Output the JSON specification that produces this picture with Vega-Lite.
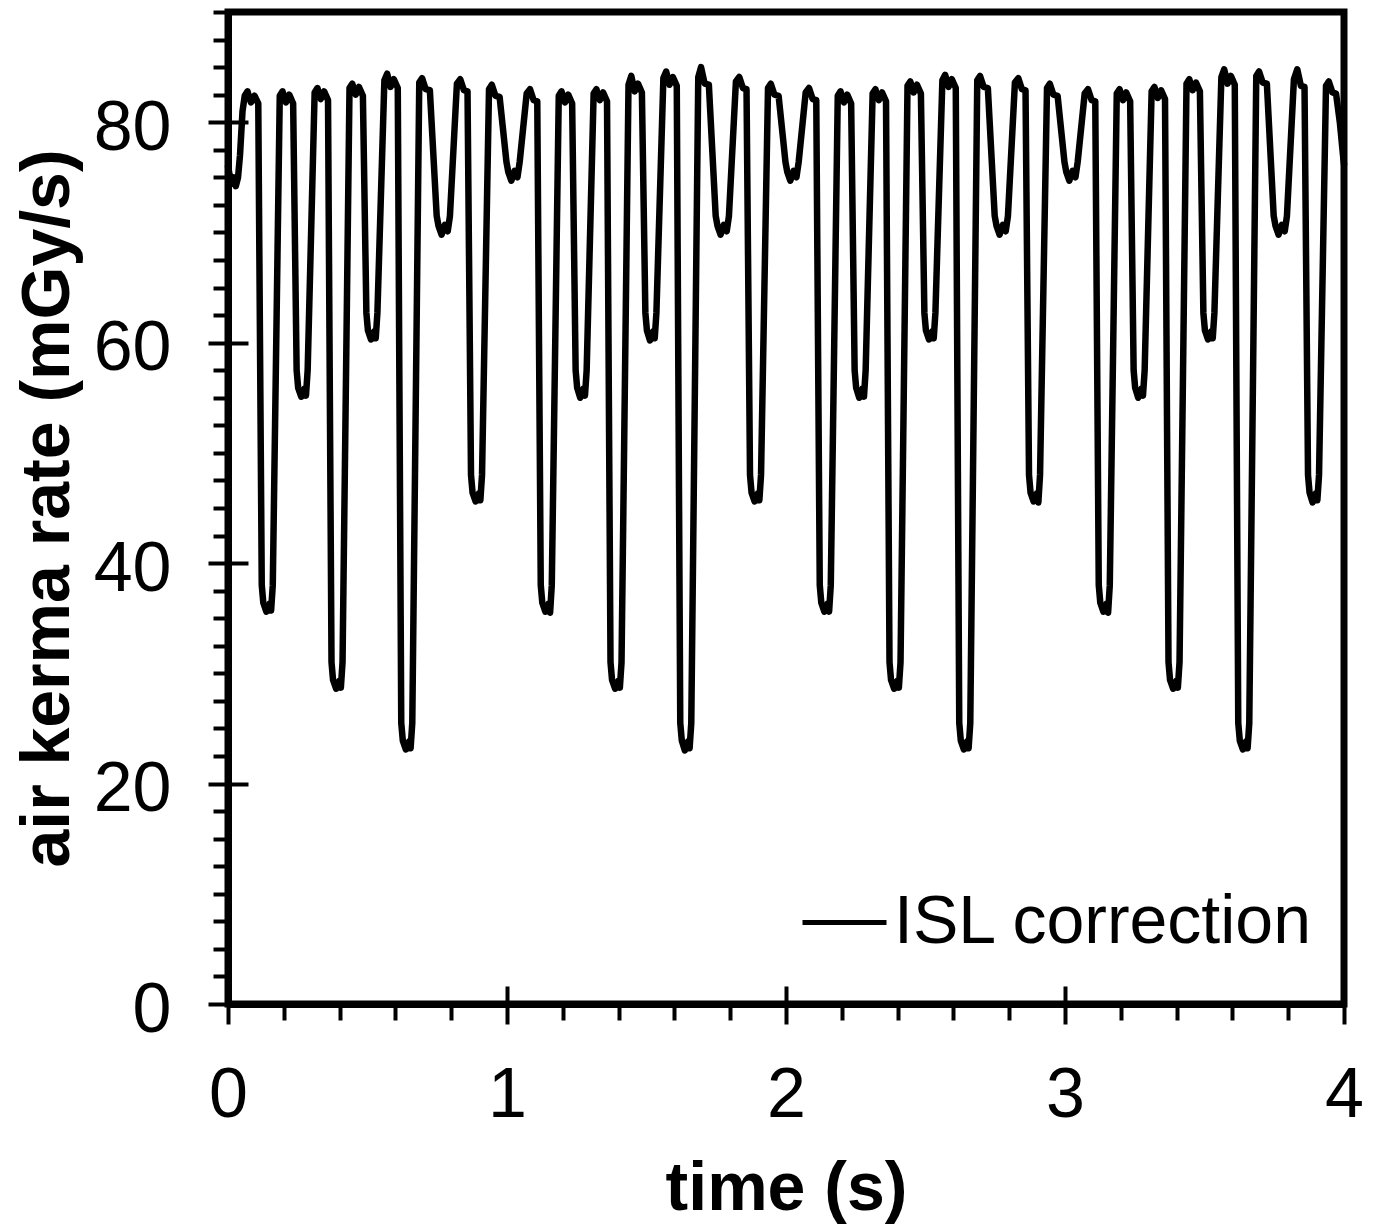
{
  "$schema": "https://vega.github.io/schema/vega-lite/v6.json",
  "width": 1116,
  "height": 992,
  "autosize": "none",
  "padding": {"left": 228, "top": 12, "right": 31, "bottom": 220},
  "background": "white",
  "config": {"view": {"stroke": "black", "strokeWidth": 7}},
  "data": {"values": [
    {"t":0,"v":76.0},{"t":0.006,"v":75.2},{"t":0.012,"v":74.4},{"t":0.02,"v":75.0},{"t":0.028,"v":74.2},{"t":0.036,"v":75.0},{"t":0.043,"v":77.0},{"t":0.052,"v":81.0},{"t":0.06,"v":82.4},{"t":0.07,"v":82.8},{"t":0.082,"v":81.8},{"t":0.095,"v":82.4},
    {"t":0.1085,"v":81.7},{"t":0.121,"v":38},{"t":0.1265,"v":36.4},{"t":0.1375,"v":35.6},{"t":0.1485,"v":36.3},{"t":0.1545,"v":35.7},{"t":0.1605,"v":38},{"t":0.1855,"v":82.4},{"t":0.1955,"v":82.8},{"t":0.2075,"v":81.8},{"t":0.2195,"v":82.5},
    {"t":0.2335,"v":81.7},{"t":0.246,"v":57.5},{"t":0.2515,"v":55.9},{"t":0.2625,"v":55.1},{"t":0.2735,"v":55.8},{"t":0.2795,"v":55.2},{"t":0.2855,"v":57.5},{"t":0.3105,"v":82.7},{"t":0.3205,"v":83.1},{"t":0.3325,"v":82.1},{"t":0.3445,"v":82.8},
    {"t":0.3585,"v":82.0},{"t":0.371,"v":31},{"t":0.3765,"v":29.4},{"t":0.3875,"v":28.6},{"t":0.3985,"v":29.3},{"t":0.4045,"v":28.7},{"t":0.4105,"v":31},{"t":0.4355,"v":83.1},{"t":0.4455,"v":83.5},{"t":0.4575,"v":82.5},{"t":0.4695,"v":83.2},
    {"t":0.4835,"v":82.4},{"t":0.496,"v":62.7},{"t":0.5015,"v":61.1},{"t":0.5125,"v":60.3},{"t":0.5235,"v":61.0},{"t":0.5295,"v":60.4},{"t":0.5355,"v":62.7},{"t":0.5605,"v":83.8},{"t":0.5705,"v":84.4},{"t":0.5825,"v":83.2},{"t":0.5945,"v":83.9},
    {"t":0.6085,"v":83.1},{"t":0.621,"v":25.5},{"t":0.6265,"v":23.9},{"t":0.6375,"v":23.1},{"t":0.6485,"v":23.8},{"t":0.6545,"v":23.2},{"t":0.6605,"v":25.5},{"t":0.6855,"v":83.6},{"t":0.6955,"v":84.0},{"t":0.7085,"v":83.0},
    {"t":0.7235,"v":82.9},{"t":0.748,"v":71.5},{"t":0.7545,"v":70.6},{"t":0.7655,"v":69.8},{"t":0.7775,"v":70.7},{"t":0.7875,"v":70.1},{"t":0.7955,"v":71.5},{"t":0.8205,"v":83.5},{"t":0.8325,"v":83.9},{"t":0.8455,"v":82.9},
    {"t":0.8585,"v":82.8},{"t":0.871,"v":48},{"t":0.8765,"v":46.4},{"t":0.8875,"v":45.6},{"t":0.8985,"v":46.3},{"t":0.9045,"v":45.7},{"t":0.9105,"v":48},{"t":0.9355,"v":83.0},{"t":0.9455,"v":83.4},{"t":0.9585,"v":82.4},
    {"t":0.9735,"v":82.3},{"t":0.998,"v":76.4},{"t":1.0045,"v":75.5},{"t":1.0155,"v":74.7},{"t":1.0275,"v":75.6},{"t":1.0375,"v":75.0},{"t":1.0455,"v":76.4},{"t":1.0705,"v":82.6},{"t":1.0825,"v":83.0},{"t":1.0955,"v":82.0},
    {"t":1.1085,"v":81.9},{"t":1.121,"v":38},{"t":1.1265,"v":36.4},{"t":1.1375,"v":35.6},{"t":1.1485,"v":36.3},{"t":1.1545,"v":35.5},{"t":1.1605,"v":38},{"t":1.1855,"v":82.4},{"t":1.1955,"v":82.8},{"t":1.2075,"v":81.8},{"t":1.2195,"v":82.5},
    {"t":1.2335,"v":81.7},{"t":1.246,"v":57.5},{"t":1.2515,"v":55.9},{"t":1.2625,"v":55.0},{"t":1.2735,"v":55.8},{"t":1.2795,"v":55.2},{"t":1.2855,"v":57.5},{"t":1.3105,"v":82.6},{"t":1.3205,"v":83.0},{"t":1.3325,"v":82.0},{"t":1.3445,"v":82.7},
    {"t":1.3585,"v":81.9},{"t":1.371,"v":31},{"t":1.3765,"v":29.4},{"t":1.3875,"v":28.6},{"t":1.3985,"v":29.3},{"t":1.4045,"v":28.7},{"t":1.4105,"v":31},{"t":1.4355,"v":83.4},{"t":1.4455,"v":84.2},{"t":1.4575,"v":82.8},{"t":1.4695,"v":83.5},
    {"t":1.4835,"v":82.7},{"t":1.496,"v":62.7},{"t":1.5015,"v":61.1},{"t":1.5125,"v":60.2},{"t":1.5235,"v":61.0},{"t":1.5295,"v":60.4},{"t":1.5355,"v":62.7},{"t":1.5605,"v":84.0},{"t":1.5705,"v":84.6},{"t":1.5825,"v":83.4},{"t":1.5945,"v":84.1},
    {"t":1.6085,"v":83.3},{"t":1.621,"v":25.5},{"t":1.6265,"v":23.9},{"t":1.6375,"v":23.0},{"t":1.6485,"v":23.8},{"t":1.6545,"v":23.2},{"t":1.6605,"v":25.5},{"t":1.6855,"v":84.1},{"t":1.6955,"v":85.0},{"t":1.7085,"v":83.5},
    {"t":1.7235,"v":83.4},{"t":1.748,"v":71.5},{"t":1.7545,"v":70.6},{"t":1.7655,"v":69.8},{"t":1.7775,"v":70.7},{"t":1.7875,"v":70.1},{"t":1.7955,"v":71.5},{"t":1.8205,"v":83.7},{"t":1.8325,"v":84.1},{"t":1.8455,"v":83.1},
    {"t":1.8585,"v":83.0},{"t":1.871,"v":48},{"t":1.8765,"v":46.4},{"t":1.8875,"v":45.6},{"t":1.8985,"v":46.3},{"t":1.9045,"v":45.7},{"t":1.9105,"v":48},{"t":1.9355,"v":83.1},{"t":1.9455,"v":83.5},{"t":1.9585,"v":82.5},
    {"t":1.9735,"v":82.4},{"t":1.998,"v":76.4},{"t":2.0045,"v":75.5},{"t":2.0155,"v":74.7},{"t":2.0275,"v":75.6},{"t":2.0375,"v":75.0},{"t":2.0455,"v":76.4},{"t":2.0705,"v":82.7},{"t":2.0825,"v":83.1},{"t":2.0955,"v":82.1},
    {"t":2.1085,"v":82.0},{"t":2.121,"v":38},{"t":2.1265,"v":36.4},{"t":2.1375,"v":35.6},{"t":2.1485,"v":36.3},{"t":2.1545,"v":35.6},{"t":2.1605,"v":38},{"t":2.1855,"v":82.4},{"t":2.1955,"v":82.8},{"t":2.2075,"v":81.8},{"t":2.2195,"v":82.5},
    {"t":2.2335,"v":81.7},{"t":2.246,"v":57.5},{"t":2.2515,"v":55.9},{"t":2.2625,"v":55.0},{"t":2.2735,"v":55.8},{"t":2.2795,"v":55.1},{"t":2.2855,"v":57.5},{"t":2.3105,"v":82.6},{"t":2.3205,"v":83.0},{"t":2.3325,"v":82.0},{"t":2.3445,"v":82.7},
    {"t":2.3585,"v":81.9},{"t":2.371,"v":31},{"t":2.3765,"v":29.4},{"t":2.3875,"v":28.6},{"t":2.3985,"v":29.3},{"t":2.4045,"v":28.7},{"t":2.4105,"v":31},{"t":2.4355,"v":83.3},{"t":2.4455,"v":83.7},{"t":2.4575,"v":82.7},{"t":2.4695,"v":83.4},
    {"t":2.4835,"v":82.6},{"t":2.496,"v":62.7},{"t":2.5015,"v":61.1},{"t":2.5125,"v":60.3},{"t":2.5235,"v":61.0},{"t":2.5295,"v":60.4},{"t":2.5355,"v":62.7},{"t":2.5605,"v":83.8},{"t":2.5705,"v":84.3},{"t":2.5825,"v":83.2},{"t":2.5945,"v":83.9},
    {"t":2.6085,"v":83.1},{"t":2.621,"v":25.5},{"t":2.6265,"v":23.9},{"t":2.6375,"v":23.1},{"t":2.6485,"v":23.8},{"t":2.6545,"v":23.2},{"t":2.6605,"v":25.5},{"t":2.6855,"v":83.8},{"t":2.6955,"v":84.2},{"t":2.7085,"v":83.2},
    {"t":2.7235,"v":83.1},{"t":2.748,"v":71.5},{"t":2.7545,"v":70.6},{"t":2.7655,"v":69.8},{"t":2.7775,"v":70.7},{"t":2.7875,"v":70.1},{"t":2.7955,"v":71.5},{"t":2.8205,"v":83.6},{"t":2.8325,"v":84.0},{"t":2.8455,"v":83.0},
    {"t":2.8585,"v":82.9},{"t":2.871,"v":48},{"t":2.8765,"v":46.4},{"t":2.8875,"v":45.6},{"t":2.8985,"v":46.3},{"t":2.9045,"v":45.5},{"t":2.9105,"v":48},{"t":2.9355,"v":83.1},{"t":2.9455,"v":83.5},{"t":2.9585,"v":82.5},
    {"t":2.9735,"v":82.4},{"t":2.998,"v":76.4},{"t":3.0045,"v":75.5},{"t":3.0155,"v":74.7},{"t":3.0275,"v":75.6},{"t":3.0375,"v":75.0},{"t":3.0455,"v":76.4},{"t":3.0705,"v":82.6},{"t":3.0825,"v":83.0},{"t":3.0955,"v":82.0},
    {"t":3.1085,"v":81.9},{"t":3.121,"v":38},{"t":3.1265,"v":36.4},{"t":3.1375,"v":35.6},{"t":3.1485,"v":36.3},{"t":3.1545,"v":35.5},{"t":3.1605,"v":38},{"t":3.1855,"v":82.6},{"t":3.1955,"v":83.0},{"t":3.2075,"v":82.0},{"t":3.2195,"v":82.7},
    {"t":3.2335,"v":81.9},{"t":3.246,"v":57.5},{"t":3.2515,"v":55.9},{"t":3.2625,"v":55.0},{"t":3.2735,"v":55.8},{"t":3.2795,"v":55.2},{"t":3.2855,"v":57.5},{"t":3.3105,"v":82.8},{"t":3.3205,"v":83.2},{"t":3.3325,"v":82.2},{"t":3.3445,"v":82.9},
    {"t":3.3585,"v":82.1},{"t":3.371,"v":31},{"t":3.3765,"v":29.4},{"t":3.3875,"v":28.6},{"t":3.3985,"v":29.3},{"t":3.4045,"v":28.7},{"t":3.4105,"v":31},{"t":3.4355,"v":83.5},{"t":3.4455,"v":83.9},{"t":3.4575,"v":82.9},{"t":3.4695,"v":83.6},
    {"t":3.4835,"v":82.8},{"t":3.496,"v":62.7},{"t":3.5015,"v":61.1},{"t":3.5125,"v":60.3},{"t":3.5235,"v":61.0},{"t":3.5295,"v":60.4},{"t":3.5355,"v":62.7},{"t":3.5605,"v":84.1},{"t":3.5705,"v":84.8},{"t":3.5825,"v":83.5},{"t":3.5945,"v":84.2},
    {"t":3.6085,"v":83.4},{"t":3.621,"v":25.5},{"t":3.6265,"v":23.9},{"t":3.6375,"v":23.1},{"t":3.6485,"v":23.8},{"t":3.6545,"v":23.2},{"t":3.6605,"v":25.5},{"t":3.6855,"v":84.2},{"t":3.6955,"v":84.6},{"t":3.7085,"v":83.6},
    {"t":3.7235,"v":83.5},{"t":3.748,"v":71.5},{"t":3.7545,"v":70.6},{"t":3.7655,"v":69.8},{"t":3.7775,"v":70.7},{"t":3.7875,"v":70.1},{"t":3.7955,"v":71.5},{"t":3.8205,"v":83.9},{"t":3.8325,"v":84.8},{"t":3.8455,"v":83.3},
    {"t":3.8585,"v":83.2},{"t":3.871,"v":48},{"t":3.8765,"v":46.4},{"t":3.8875,"v":45.5},{"t":3.8985,"v":46.3},{"t":3.9045,"v":45.7},{"t":3.9105,"v":48},{"t":3.9355,"v":83.3},{"t":3.9455,"v":83.7},{"t":3.9585,"v":82.7},
    {"t":3.9715,"v":82.6},{"t":3.985,"v":80.0},{"t":3.998,"v":76.6},{"t":4.0,"v":76.2}
  ]},
  "layer": [
    {
      "mark": {"type": "line", "color": "black", "strokeWidth": 6.5, "strokeJoin": "round", "strokeCap": "round"},
      "encoding": {
        "x": {"field": "t", "type": "quantitative", "scale": {"domain": [0, 4], "nice": false, "zero": false},
          "axis": {"orient": "bottom", "values": [0, 1, 2, 3, 4], "format": "d", "tickSize": 20, "tickWidth": 4, "tickColor": "black",
            "domain": true, "domainWidth": 7, "domainColor": "black", "grid": false,
            "labelFont": "Liberation Sans", "labelFontSize": 70, "labelColor": "black", "labelPadding": 37,
            "labelFlush": false, "labelOverlap": false, "labelBound": false,
            "title": "time (s)", "titleFont": "Liberation Sans", "titleFontSize": 68, "titleFontWeight": "bold", "titleColor": "black", "titlePadding": 25}},
        "y": {"field": "v", "type": "quantitative", "scale": {"domain": [0, 90], "nice": false},
          "axis": {"orient": "left", "values": [0, 20, 40, 60, 80], "tickSize": 20, "tickWidth": 4, "tickColor": "black",
            "domain": true, "domainWidth": 7, "domainColor": "black", "grid": false,
            "labelFont": "Liberation Sans", "labelFontSize": 70, "labelColor": "black", "labelPadding": 37, "labelOffset": 6,
            "labelFlush": false, "labelOverlap": false, "labelBound": false,
            "title": "air kerma rate (mGy/s)", "titleFont": "Liberation Sans", "titleFontSize": 68, "titleFontWeight": "bold", "titleColor": "black", "titlePadding": 11}},
        "color": {"datum": "ISL correction", "type": "nominal", "scale": {"range": ["black"]},
          "legend": {"orient": "none", "legendX": 572, "legendY": 866, "title": null, "padding": 0,
            "symbolType": "stroke", "symbolSize": 7056, "symbolStrokeWidth": 5,
            "labelFont": "Liberation Sans", "labelFontSize": 68, "labelColor": "black", "labelOffset": 5, "labelLimit": 0}}
      }
    },
    {
      "mark": {"type": "point", "opacity": 0},
      "encoding": {
        "x": {"field": "t", "type": "quantitative",
          "axis": {"orient": "bottom", "values": [0.2, 0.4, 0.6, 0.8, 1.2, 1.4, 1.6, 1.8, 2.2, 2.4, 2.6, 2.8, 3.2, 3.4, 3.6, 3.8],
            "tickSize": 16, "tickWidth": 4, "tickColor": "black", "domain": false, "labels": false, "title": null, "grid": false}},
        "y": {"field": "v", "type": "quantitative",
          "axis": {"orient": "left", "values": [2.5, 5, 7.5, 10, 12.5, 15, 17.5, 22.5, 25, 27.5, 30, 32.5, 35, 37.5, 42.5, 45, 47.5, 50, 52.5, 55, 57.5, 62.5, 65, 67.5, 70, 72.5, 75, 77.5, 82.5, 85, 87.5, 90],
            "tickSize": 15, "tickWidth": 4, "tickColor": "black", "domain": false, "labels": false, "title": null, "grid": false}}
      }
    },
    {
      "mark": {"type": "point", "opacity": 0},
      "encoding": {
        "x": {"field": "t", "type": "quantitative",
          "axis": {"orient": "bottom", "values": [0, 1, 2, 3, 4],
            "tickSize": -18, "tickWidth": 4, "tickColor": "black", "domain": false, "labels": false, "title": null, "grid": false}},
        "y": {"field": "v", "type": "quantitative",
          "axis": {"orient": "left", "values": [0, 20, 40, 60, 80],
            "tickSize": -20, "tickWidth": 4, "tickColor": "black", "domain": false, "labels": false, "title": null, "grid": false}}
      }
    }
  ],
  "resolve": {"axis": {"x": "independent", "y": "independent"}}
}
